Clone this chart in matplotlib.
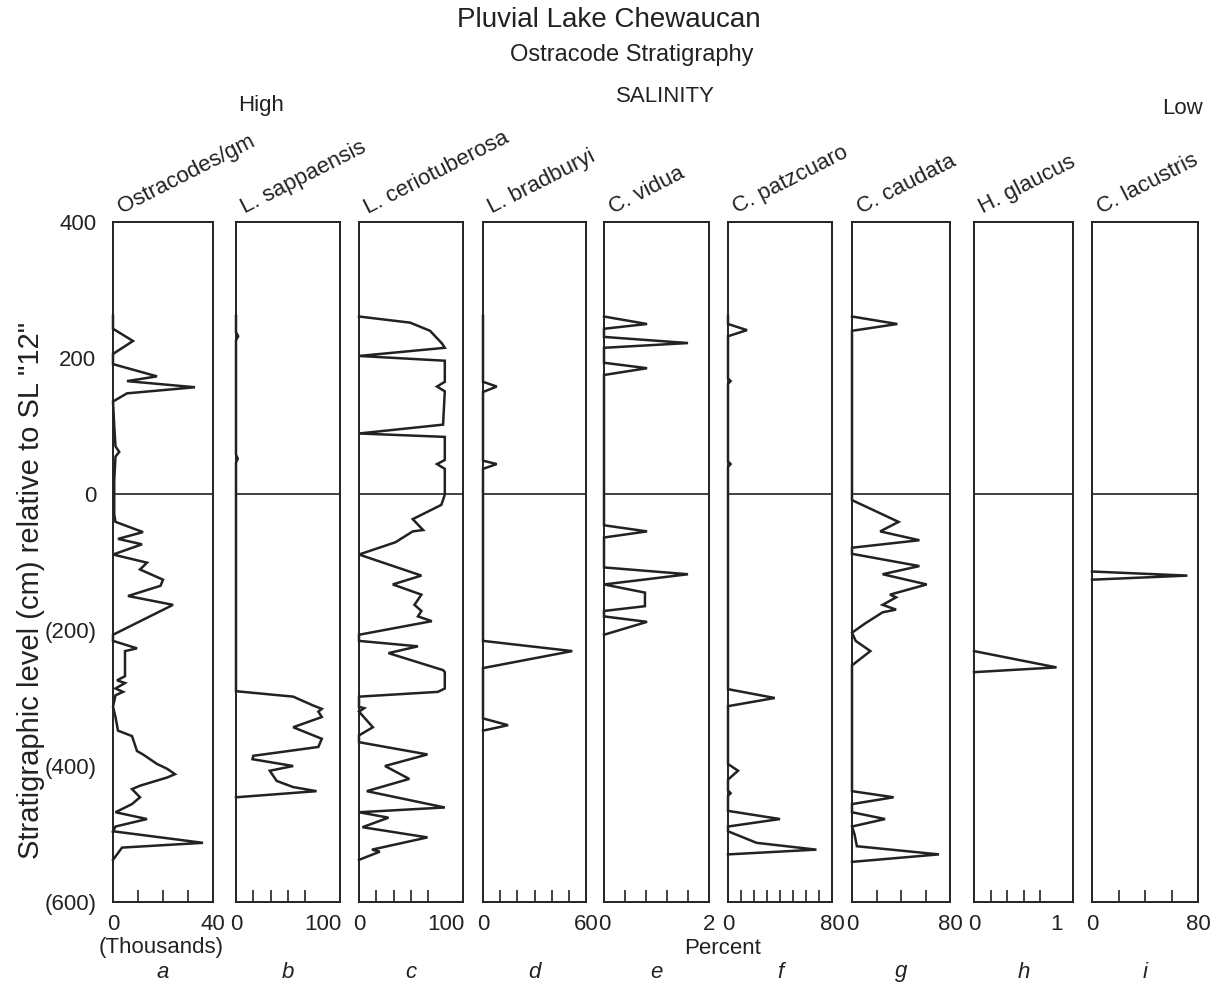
import numpy as np
import matplotlib
matplotlib.use('Agg')
import matplotlib.pyplot as plt

plt.rcParams['font.family'] = ['Liberation Sans', 'DejaVu Sans']

# --- data: depth (cm relative to SL "12") and value ---
ostra_depth = [262, 243, 225, 206, 191, 173, 166, 157, 148, 136, 100, 70, 62, 55, 20, 0, -30, -41, -56, -66,
               -74, -89, -101, -111, -126, -135, -150, -163, -207, -216, -227, -231, -268, -274, -278, -286,
               -291, -296, -313, -328, -348, -356, -378, -383, -397, -404, -412, -417, -429, -434, -446, -456,
               -468, -478, -489, -496, -513, -520, -538]
ostra_val = [0, 0, 8, 0, 0, 17.6, 5.6, 32.8, 5.6, 0, 0.5, 1, 2.5, 1, 0.5, 0.5, 0.5, 1, 12, 2,
             11.6, 0, 13.6, 10.8, 20, 19, 6, 24, 0, 0, 9.6, 4.8, 4.8, 1.6, 4.8, 1,
             4, 1, 0, 1, 2, 7.6, 9.6, 12, 17.6, 21.6, 24.8, 21.6, 10.8, 7.6, 10.8, 7.6,
             1, 13.6, 1, 0, 36, 3.6, 0]

sapp_depth = [262, 238, 232, 226, 58, 52, 46, 0, -290, -298, -311, -316, -320, -328, -343, -360, -372,
              -385, -390, -400, -407, -422, -431, -437, -446]
sapp_val = [0, 0, 2.5, 0, 0, 2, 0, 0, 0, 66, 89, 99, 95, 99, 66, 99, 95,
            20, 19, 66, 39, 47, 66, 93, 0]

cerio_depth = [261, 252, 240, 221, 215, 203, 196, 165, 158, 151, 102, 89, 84, 50, 44, 37, -1, -16, -37, -53,
               -55, -71, -89, -120, -133, -148, -163, -172, -180, -187, -207, -216, -224, -234, -259, -262,
               -286, -291, -298, -313, -315, -320, -343, -355, -365, -383, -400, -419, -437, -461, -468,
               -476, -490, -505, -523, -526, -538]
cerio_val = [0, 59, 82, 96, 99, 0, 99, 99, 90, 99, 97, 0, 99, 99, 90, 99, 99, 95, 62, 74,
             62, 42, 0, 72, 39, 72, 64, 72, 68, 84, 0, 0, 68, 34, 97, 99,
             99, 91, 0, 0, 6, 0, 16, 0, 0, 79, 30, 58, 9, 99, 0,
             34, 4, 79, 15, 24, 0]

bradb_depth = [262, 165, 158, 150, 49, 44, 37, 0, -216, -231, -256, -330, -340, -348]
bradb_val = [0, 0, 8, 0, 0, 8, 0, 0, 0, 52, 0, 0, 14.6, 0]

vidua_depth = [261, 250, 243, 231, 222, 215, 193, 185, 175, -46, -55, -64, -108, -118, -133, -145, -165,
               -172, -180, -188, -207]
vidua_val = [0, 0.82, 0, 0, 1.6, 0, 0, 0.82, 0, 0, 0.82, 0, 0, 1.6, 0, 0.78, 0.78,
             0, 0, 0.82, 0]

patz_depth = [262, 250, 241, 232, 170, 166, 162, 48, 44, 40, -287, -300, -312, -397, -407, -420, -436,
              -440, -444, -466, -478, -489, -496, -513, -523, -530]
patz_val = [0, 0, 14.6, 0, 0, 2, 0, 0, 2, 0, 0, 36, 0, 0, 7.7, 0, 0,
            2, 0, 0, 40, 0, 0, 22, 68, 0]

caud_depth = [261, 250, 240, -9, -41, -55, -68, -79, -88, -106, -118, -133, -148, -152, -163, -170, -174,
              -190, -204, -216, -231, -252, -437, -446, -456, -468, -478, -489, -500, -518, -530, -541]
caud_val = [0, 37, 0, 0, 38, 23, 55, 0, 0, 55, 25, 61, 31, 36, 25, 36, 25,
            11, 0, 3, 15, 0, 0, 34, 0, 0, 27, 0, 2, 4, 71, 0]

glauc_depth = [-231, -255, -262]
glauc_val = [0, 1.0, 0]

lacus_depth = [-114, -120, -126]
lacus_val = [0, 72, 0]

species = ['Ostracodes/gm', 'L. sappaensis', 'L. ceriotuberosa', 'L. bradburyi', 'C. vidua',
           'C. patzcuaro', 'C. caudata', 'H. glaucus', 'C. lacustris']
letters = ['a', 'b', 'c', 'd', 'e', 'f', 'g', 'h', 'i']
depths = [ostra_depth, sapp_depth, cerio_depth, bradb_depth, vidua_depth, patz_depth, caud_depth,
          glauc_depth, lacus_depth]
values = [ostra_val, sapp_val, cerio_val, bradb_val, vidua_val, patz_val, caud_val, glauc_val, lacus_val]
x_max = [40, 120, 120, 60, 2, 80, 80, 1.2, 80]
x_label_at = [40, 100, 100, 60, 2, 80, 80, 1, 80]
x_label_txt = ['40', '100', '100', '60', '2', '80', '80', '1', '80']
n_steps = [4, 6, 6, 6, 5, 8, 4, 6, 4]

y_ticks = [400, 200, 0, -200, -400, -600]
y_tick_labels = ['400', '200', '0', '(200)', '(400)', '(600)']

# --- layout (pixels) ---
W, H = 1217, 985
lefts = [113, 236, 359, 483, 604, 728, 852, 974, 1092]
rights = [213, 340, 463, 586, 709, 832, 950, 1073, 1198]
top_px, bot_px = 222, 902
ink = '#222222'

fig = plt.figure(figsize=(W / 100, H / 100), dpi=100)

for k in range(9):
    l, r = lefts[k], rights[k]
    ax = fig.add_axes([l / W, (H - bot_px) / H, (r - l) / W, (bot_px - top_px) / H])
    ax.plot(values[k], depths[k], color=ink, lw=1.8, solid_joinstyle='miter', clip_on=False)
    ax.axhline(0, color=ink, lw=1.2)
    ax.set_xlim(0, x_max[k])
    ax.set_ylim(-600, 400)
    for s in ax.spines.values():
        s.set_linewidth(1.4)
        s.set_color(ink)

    step = x_max[k] / n_steps[k]
    ax.set_xticks([0, x_label_at[k]])
    ax.set_xticklabels(['0', x_label_txt[k]])
    ax.set_xticks(np.arange(1, n_steps[k]) * step, minor=True)
    ax.tick_params(axis='x', which='major', length=0, labelsize=16, pad=9, colors=ink)
    ax.tick_params(axis='x', which='minor', direction='in', length=9, width=1.2, color=ink)

    if k == 0:
        ax.set_yticks(y_ticks)
        ax.set_yticklabels(y_tick_labels)
        ax.tick_params(axis='y', length=0, labelsize=16, pad=12, colors=ink)
    else:
        ax.set_yticks([])

    # rotated species name above each column
    fig.text((l + 9) / W, (H - 214) / H, species[k], rotation=27, rotation_mode='anchor',
             ha='left', va='baseline', fontsize=16, color=ink)
    # panel letter
    fig.text((l + r) / 2 / W, (H - 972) / H, letters[k], ha='center', va='center',
             fontsize=16, style='italic', color=ink)

fig.text(609 / W, (H - 20) / H, 'Pluvial Lake Chewaucan', ha='center', va='center', fontsize=20, color=ink)
fig.text(632 / W, (H - 55) / H, 'Ostracode Stratigraphy', ha='center', va='center', fontsize=17, color=ink)
fig.text(261 / W, (H - 105) / H, 'High', ha='center', va='center', fontsize=16, color=ink)
fig.text(665 / W, (H - 97) / H, 'SALINITY', ha='center', va='center', fontsize=16, color=ink)
fig.text(1182 / W, (H - 108) / H, 'Low', ha='center', va='center', fontsize=16, color=ink)
fig.text(161 / W, (H - 947) / H, '(Thousands)', ha='center', va='center', fontsize=16, color=ink)
fig.text(723 / W, (H - 949) / H, 'Percent', ha='center', va='center', fontsize=16, color=ink)
fig.text(31 / W, (H - 590) / H, 'Stratigraphic level (cm) relative to SL "12"', rotation=90,
         ha='center', va='center', fontsize=21, color=ink)

fig.savefig('out.png', dpi=100)
